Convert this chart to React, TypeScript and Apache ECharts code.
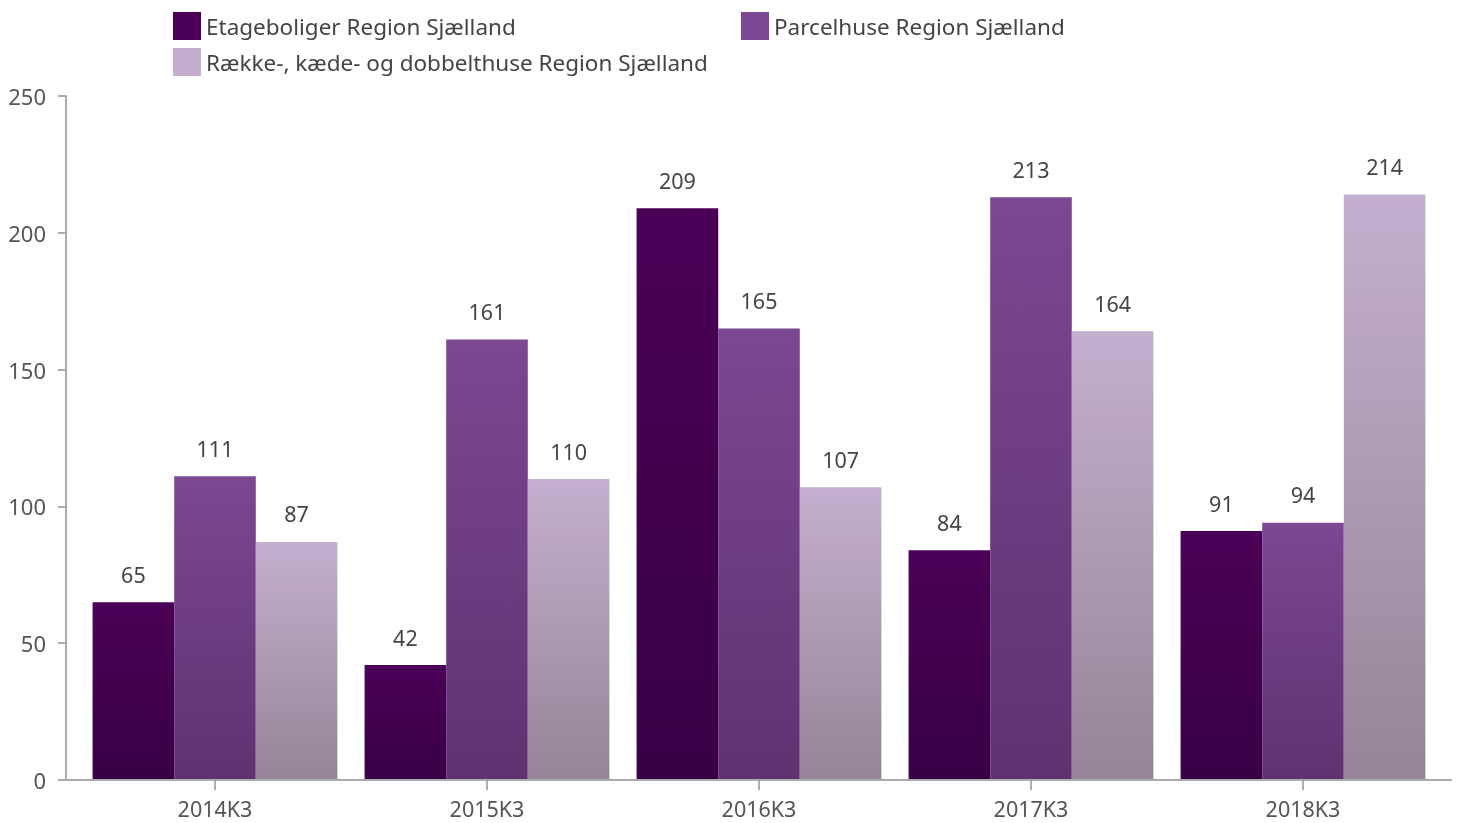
import React, { useEffect, useRef } from "react";
import * as echarts from "echarts";

const categories = ["2014K3", "2015K3", "2016K3", "2017K3", "2018K3"];
const seriesNames = [
  "Etageboliger Region Sjælland",
  "Parcelhuse Region Sjælland",
  "Række-, kæde- og dobbelthuse Region Sjælland",
];
const etageboliger = [65, 42, 209, 84, 91];
const parcelhuse = [111, 161, 165, 213, 94];
const raekkehuse = [87, 110, 107, 164, 214];
const yTicks = { min: 0, max: 250, interval: 50 };

const FONT = "'Noto Sans', 'Open Sans', sans-serif";

const grad = (top: string, bottom: string) =>
  new echarts.graphic.LinearGradient(0, 0, 0, 1, [
    { offset: 0, color: top },
    { offset: 1, color: bottom },
  ]);

const legendColors = ["#4b0057", "#7c4793", "#c3aecf"];

export default function App() {
  const ref = useRef<HTMLDivElement>(null);
  useEffect(() => {
    if (!ref.current) return;
    const chart = echarts.init(ref.current, null, { renderer: "svg" });
    const values = [etageboliger, parcelhuse, raekkehuse];
    const grads = [
      grad("#4b0057", "#370045"),
      grad("#7c4793", "#603170"),
      grad("#c4afd0", "#958596"),
    ];
    const legendBase = {
      itemWidth: 28,
      itemHeight: 28,
      icon: "rect",
      itemGap: 8,
      textStyle: { fontSize: 22.5, color: "#444", fontFamily: FONT },
    };
    const legendItem = (i: number) => ({
      name: seriesNames[i],
      itemStyle: { color: legendColors[i] },
    });
    chart.setOption({
      animation: false,
      textStyle: { fontFamily: FONT },
      legend: [
        { ...legendBase, data: [legendItem(0)], left: 168, top: 7 },
        { ...legendBase, data: [legendItem(1)], left: 736, top: 7 },
        { ...legendBase, data: [legendItem(2)], left: 168, top: 43 },
      ],
      grid: { left: 79, right: 20, top: 96, bottom: 43, containLabel: false },
      xAxis: {
        type: "category",
        data: categories,
        axisLine: { show: false },
        axisTick: { show: true, alignWithLabel: true, length: 10, lineStyle: { color: "#a9adb1", width: 2 } },
        axisLabel: { fontSize: 21.5, color: "#555", margin: 17, fontFamily: FONT },
      },
      yAxis: {
        type: "value",
        min: yTicks.min,
        max: yTicks.max,
        interval: yTicks.interval,
        offset: 13,
        splitLine: { show: false },
        axisLine: { show: true, lineStyle: { color: "#a9adb1", width: 2 } },
        axisTick: { show: true, length: 8, lineStyle: { color: "#a9adb1", width: 2 } },
        axisLabel: { fontSize: 22, color: "#555", margin: 20, fontFamily: FONT },
      },
      graphic: [
        {
          type: "line",
          shape: { x1: 66, y1: 780, x2: 1452, y2: 780 },
          style: { stroke: "#a9adb1", lineWidth: 2 },
          z: 10,
        },
      ],
      series: values.map((v, i) => ({
        name: seriesNames[i],
        type: "bar",
        data: v,
        barGap: "0%",
        barCategoryGap: "10%",
        itemStyle: { color: grads[i] },
        label: {
          show: true,
          position: "top",
          distance: 17,
          fontSize: 21.5,
          color: "#444",
          fontFamily: FONT,
        },
      })),
    });
    return () => chart.dispose();
  }, []);
  return (
    <div
      ref={ref}
      style={{ position: "fixed", left: 0, top: 0, width: 1459, height: 823 }}
    />
  );
}
